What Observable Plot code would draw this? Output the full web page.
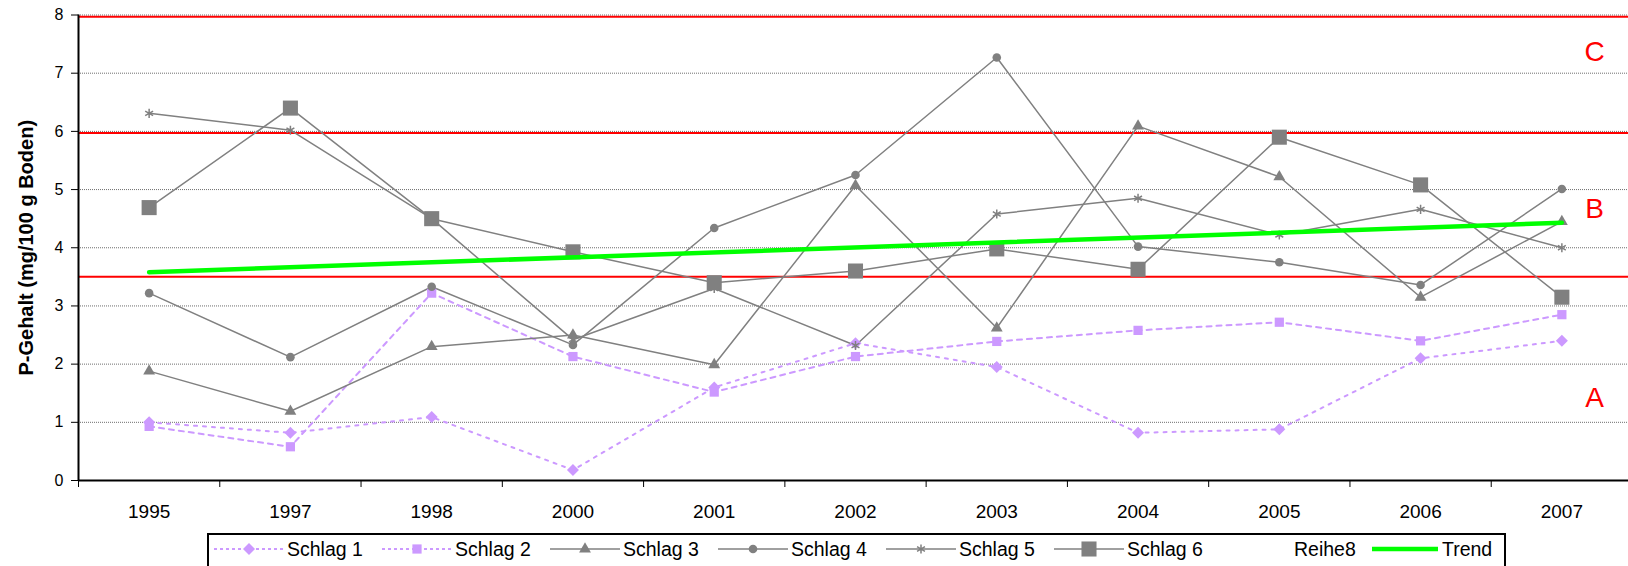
<!DOCTYPE html>
<html>
<head>
<meta charset="utf-8">
<script src="https://cdn.jsdelivr.net/npm/d3@7"></script>
<script src="https://cdn.jsdelivr.net/npm/@observablehq/plot@0.6"></script>
<style>
html, body { margin: 0; padding: 0; background: #fff; overflow: hidden; }
#wrap { position: relative; width: 1628px; height: 566px; overflow: hidden; font-family: "Liberation Sans", Arial, sans-serif; background: #fff; }
#chart { position: absolute; left: 0; top: 0; width: 1632px; }
#legend { position: absolute; left: 207px; top: 533px; width: 1299px; height: 46px; border: 2px solid #000; box-sizing: border-box; background: #fff; }
.item { position: absolute; top: 0; height: 28px; display: flex; align-items: center; }
.item span { font-size: 19.5px; color: #000; white-space: nowrap; margin-left: 2px; }
.item svg { display: block; }
</style>
</head>
<body>
<div id="wrap">
  <div id="chart"></div>
  <div id="legend"></div>
</div>
<script>
// ---- data ----
const years = ["1995", "1997", "1998", "2000", "2001", "2002", "2003", "2004", "2005", "2006", "2007"];
const schlag1 = [1.00, 0.82, 1.09, 0.18, 1.60, 2.36, 1.95, 0.82, 0.88, 2.10, 2.40];
const schlag2 = [0.93, 0.58, 3.22, 2.13, 1.52, 2.13, 2.39, 2.58, 2.72, 2.40, 2.85];
const schlag3 = [1.88, 1.19, 2.30, 2.50, 1.99, 5.07, 2.62, 6.09, 5.22, 3.15, 4.45];
const schlag4 = [3.22, 2.12, 3.33, 2.33, 4.34, 5.25, 7.27, 4.02, 3.75, 3.36, 5.01];
const schlag5 = [6.31, 6.02, 4.50, 2.42, 3.30, 2.32, 4.58, 4.85, 4.22, 4.66, 4.00];
const schlag6 = [4.69, 6.40, 4.50, 3.93, 3.40, 3.60, 3.98, 3.63, 5.90, 5.08, 3.15];
const trendYears = ["1995", "2007"];
const trendValues = [3.58, 4.43];
const classLimits = [3.5, 5.97, 7.97];
const classLabels = ["A", "B", "C"];
const classLabelValues = [1.41, 4.66, 7.37];
const yTicks = [0, 1, 2, 3, 4, 5, 6, 7, 8];
const yLabel = "P-Gehalt (mg/100 g Boden)";
const legendNames = ["Schlag 1", "Schlag 2", "Schlag 3", "Schlag 4", "Schlag 5", "Schlag 6", "Reihe8", "Trend"];

// ---- styling ----
const purple = "#CC99FF", gray = "#808080", green = "#00FF00", red = "#FF0000";
const series = [
  {name: "Schlag 1", values: schlag1, stroke: purple, dash: "3,6", lw: 2, symbol: "diamond2", r: 5.4},
  {name: "Schlag 2", values: schlag2, stroke: purple, dash: "5,5", lw: 2, symbol: "square", r: 5.2},
  {name: "Schlag 3", values: schlag3, stroke: gray, dash: null, lw: 1.5, symbol: "triangle", r: 4.4},
  {name: "Schlag 4", values: schlag4, stroke: gray, dash: null, lw: 1.5, symbol: "circle", r: 4.3},
  {name: "Schlag 5", values: schlag5, stroke: gray, dash: null, lw: 1.5, symbol: "asterisk", r: 4.3, hollow: true},
  {name: "Schlag 6", values: schlag6, stroke: gray, dash: null, lw: 1.5, symbol: "square", r: 8.5}
];

const idx = years.map((_, i) => i);
const boundaries = d3.range(-0.5, years.length, 1);
const rows = s => s.values.map((v, i) => ({i, v}));

const marks = [];
// gridlines
marks.push(Plot.ruleY(yTicks.filter(d => d > 0), {stroke: "#6e6e6e", strokeWidth: 1, strokeDasharray: "1,1"}));
// class limit lines
marks.push(Plot.ruleY(classLimits, {stroke: red, strokeWidth: 2}));
// series lines
for (const s of series) {
  marks.push(Plot.line(rows(s), {x: "i", y: "v", stroke: s.stroke, strokeWidth: s.lw, strokeDasharray: s.dash || undefined}));
}
// markers
for (const s of series) {
  if (s.hollow) {
    marks.push(Plot.dot(rows(s), {x: "i", y: "v", symbol: s.symbol, r: s.r, stroke: s.stroke, strokeWidth: 1.5, fill: "none"}));
  } else {
    marks.push(Plot.dot(rows(s), {x: "i", y: "v", symbol: s.symbol, r: s.r, fill: s.stroke, stroke: "none"}));
  }
}
// trend
marks.push(Plot.line(trendYears.map((y, k) => ({i: years.indexOf(y), v: trendValues[k]})), {x: "i", y: "v", stroke: green, strokeWidth: 4.5}));
// axis lines
marks.push(Plot.ruleX([-0.5], {y1: 0, y2: 8, stroke: "#000", strokeWidth: 2}));
marks.push(Plot.ruleY([0], {x1: -0.5, x2: years.length - 0.5, stroke: "#000", strokeWidth: 2}));
// x labels
marks.push(Plot.text(idx, {x: d => d, y: () => 0, text: d => years[d], dy: 31, fontSize: 19, fill: "#000"}));
// y tick labels
marks.push(Plot.text(yTicks, {y: d => d, text: d => String(d), frameAnchor: "left", dx: -15, textAnchor: "end", fontSize: 16, fill: "#000"}));
// class letters
marks.push(Plot.text(classLabels, {y: (d, i) => classLabelValues[i], frameAnchor: "right", dx: -38, textAnchor: "middle", fill: red, fontSize: 28}));
// y label
marks.push(Plot.text([yLabel], {frameAnchor: "left", dx: -52, rotate: -90, textAnchor: "middle", fontSize: 20, fontWeight: "bold", fill: "#000"}));

const chart = Plot.plot({
  width: 1632,
  height: 533,
  marginLeft: 78,
  marginRight: 0,
  marginTop: 14.5,
  marginBottom: 53,
  style: {fontSize: "16px", fontFamily: "'Liberation Sans', Arial, sans-serif", background: "transparent", maxWidth: "none", color: "#000", overflow: "visible"},
  x: {type: "linear", domain: [-0.5, years.length - 0.5], ticks: boundaries, tickFormat: () => "", tickSize: 7, label: null},
  y: {type: "linear", domain: [0, 8], ticks: yTicks, tickFormat: () => "", tickSize: 7, label: null},
  marks
});
document.getElementById("chart").appendChild(chart);

// ---- legend ----
const symbolTypes = {diamond2: d3.symbolDiamond2, square: d3.symbolSquare, triangle: d3.symbolTriangle, circle: d3.symbolCircle, asterisk: d3.symbolAsterisk};
const legend = d3.select("#legend");
const textStarts = [287, 455, 623, 791, 959, 1127, 1294, 1442];
legendNames.forEach((name, k) => {
  const item = legend.append("div").attr("class", "item").style("left", (textStarts[k] - 209 - 74) + "px");
  const svg = item.append("svg").attr("width", 72).attr("height", 28);
  const s = series.find(d => d.name === name);
  if (s) {
    svg.append("line").attr("x1", 1).attr("x2", 71).attr("y1", 14).attr("y2", 14)
      .attr("stroke", s.stroke).attr("stroke-width", s.lw).attr("stroke-dasharray", s.dash ? "3,3" : null);
    const path = d3.symbol().type(symbolTypes[s.symbol]).size(Math.PI * s.r * s.r)();
    const p = svg.append("path").attr("d", path).attr("transform", "translate(36,14)");
    if (s.hollow) p.attr("fill", "none").attr("stroke", s.stroke).attr("stroke-width", 1.5);
    else p.attr("fill", s.stroke);
  } else if (name === "Trend") {
    svg.append("line").attr("x1", 4).attr("x2", 70).attr("y1", 14).attr("y2", 14)
      .attr("stroke", green).attr("stroke-width", 4.5);
  }
  item.append("span").text(name);
});
</script>
</body>
</html>
